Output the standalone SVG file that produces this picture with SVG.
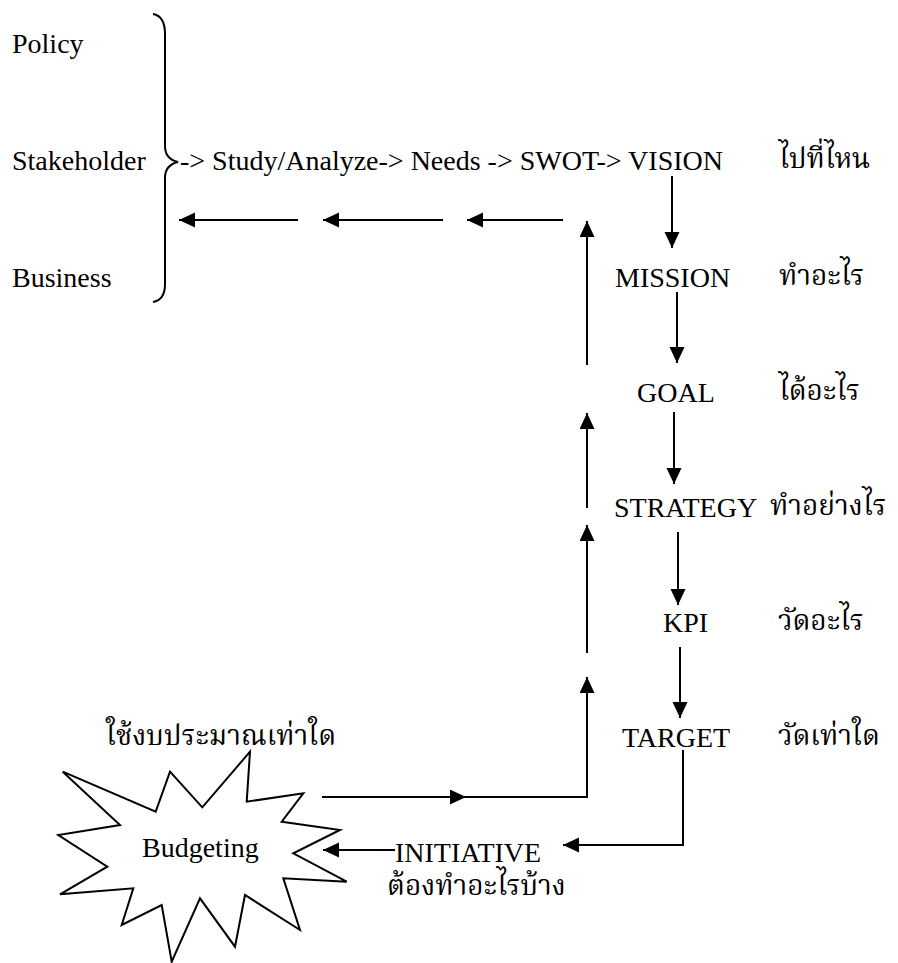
<svg xmlns="http://www.w3.org/2000/svg" width="898" height="963" viewBox="0 0 898 963">
<style>
text{font-family:"Liberation Serif","Times New Roman","Noto Serif Thai","Noto Sans Thai","Norasi","Kinnari","Garuda",serif;font-size:28px;fill:#000}
.th{font-family:"Noto Serif Thai","Norasi","Kinnari","Noto Sans Thai","Garuda","Loma",serif;font-size:28px}
.ln{fill:none;stroke:#000;stroke-width:2}
.ar{fill:none;stroke:#000;stroke-width:2;marker-end:url(#ah)}
</style>
<defs>
<marker id="ah" markerUnits="userSpaceOnUse" markerWidth="16" markerHeight="16" refX="16" refY="7.5" orient="auto">
<path d="M0,0 L16,7.5 L0,15 Z" fill="#000"/>
</marker>
</defs>
<rect width="898" height="963" fill="#fff"/>
<g id="sources">
<text x="12" y="53">Policy</text>
<text x="12" y="170">Stakeholder</text>
<text x="12" y="287">Business</text>
<path class="ln" d="M153,14 Q165,16 165,34 L165,146 Q165,159 178,162 Q165,165 165,178 L165,284 Q165,300 153,302"/>
</g>
<g id="vision">
<text x="180" y="170">-&gt; Study/Analyze-&gt; Needs -&gt; SWOT-&gt; VISION</text>
<text class="th" x="779" y="168">ไปที่ไหน</text>
</g>
<g id="mission">
<text x="615" y="287">MISSION</text>
<text class="th" x="779" y="285">ทำอะไร</text>
</g>
<g id="goal">
<text x="637" y="402">GOAL</text>
<text class="th" x="779" y="400">ได้อะไร</text>
</g>
<g id="strategy">
<text x="614" y="517">STRATEGY</text>
<text class="th" x="770" y="515">ทำอย่างไร</text>
</g>
<g id="kpi">
<text x="663" y="632">KPI</text>
<text class="th" x="778" y="630">วัดอะไร</text>
</g>
<g id="target">
<text x="622" y="747">TARGET</text>
<text class="th" x="778" y="745">วัดเท่าใด</text>
</g>
<g id="initiative">
<text x="395" y="862">INITIATIVE</text>
<text class="th" x="387" y="895">ต้องทำอะไรบ้าง</text>
</g>
<g id="budgeting">
<text class="th" x="106" y="745">ใช้งบประมาณเท่าใด</text>
<polygon class="ln" fill="#fff" points="62.7,771.7 155.7,811.7 170,771.7 202.3,807.3 250,751.7 246.7,801.7 303.3,793.3 281.7,821.7 340,830 293.3,853.3 346.7,881.7 283.3,878.3 300,930 245,895 235,946.7 200,898.3 171.7,961.7 161.7,905 121.7,925 133.3,888.3 60,894.3 107.3,866.7 58.3,835 120,825"/>
<text x="142" y="857">Budgeting</text>
</g>
<g id="connectors">
<line class="ar" x1="672" y1="176" x2="672" y2="248"/>
<line class="ar" x1="677" y1="292" x2="677" y2="363"/>
<line class="ar" x1="674" y1="412" x2="674" y2="484"/>
<line class="ar" x1="678" y1="532" x2="678" y2="605"/>
<line class="ar" x1="680" y1="647" x2="680" y2="718"/>
<polyline class="ar" points="683,750 683,845 563,845"/>
<line class="ar" x1="395" y1="850" x2="323" y2="850"/>
<line class="ar" x1="322" y1="797" x2="466" y2="797"/>
<polyline class="ar" points="450,797 587,797 587,677"/>
<line class="ar" x1="587" y1="653" x2="587" y2="525"/>
<line class="ar" x1="587" y1="508" x2="587" y2="413"/>
<line class="ar" x1="587" y1="365" x2="587" y2="221"/>
<line class="ar" x1="563" y1="220" x2="467" y2="220"/>
<line class="ar" x1="443" y1="220" x2="323" y2="220"/>
<line class="ar" x1="298" y1="220" x2="179" y2="220"/>
</g>
</svg>
